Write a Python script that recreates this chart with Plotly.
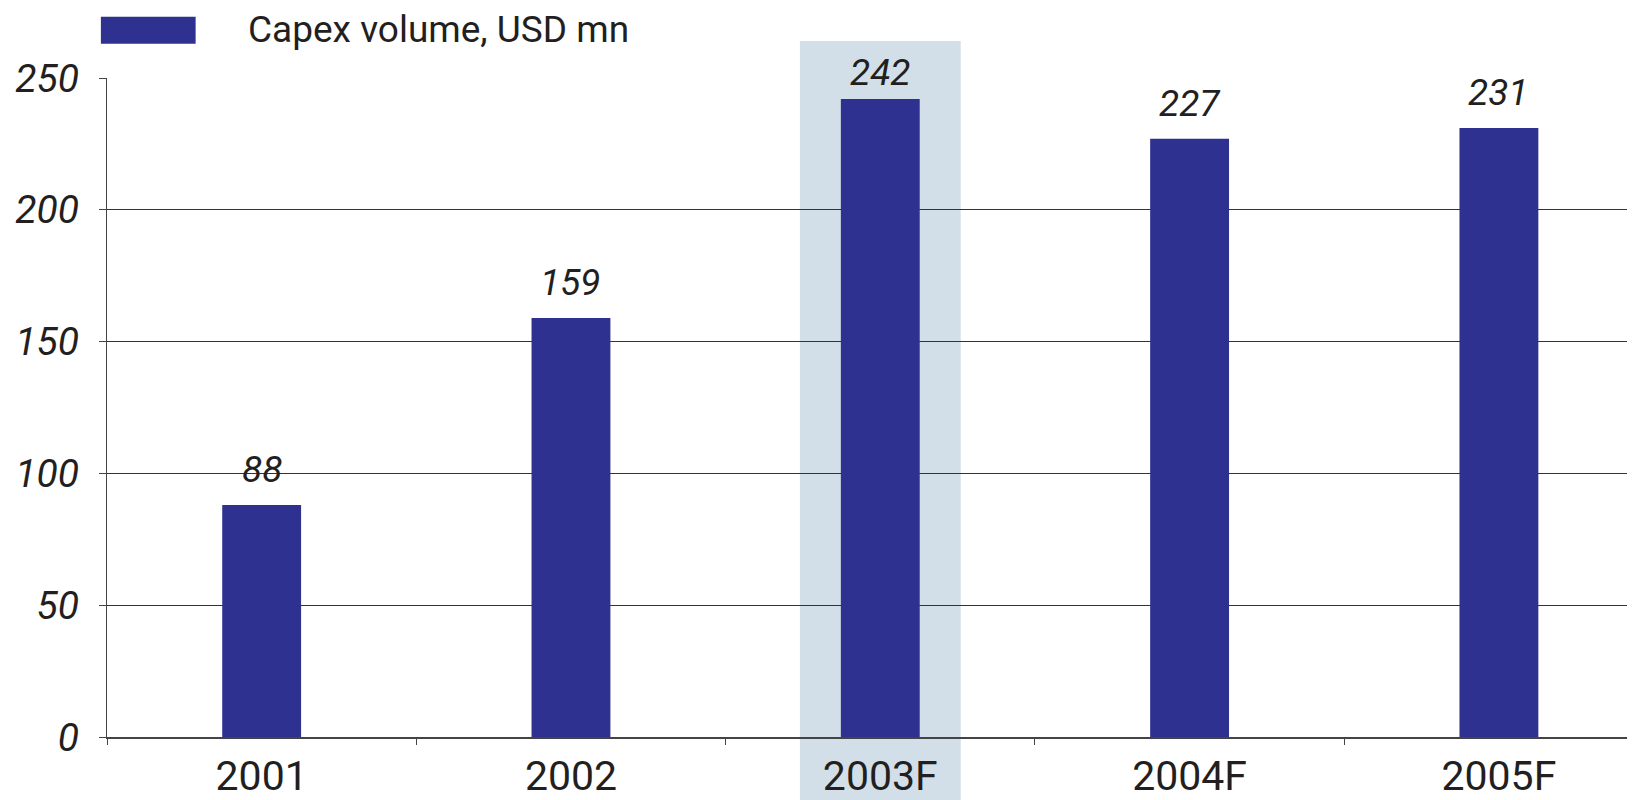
import plotly.graph_objects as go

years = ["2001", "2002", "2003F", "2004F", "2005F"]
capex = [88, 159, 242, 227, 231]
highlight = "2003F"
series_name = "Capex volume, USD mn"
y_ticks = [0, 50, 100, 150, 200, 250]

BAR = "#2e3190"
BAND = "#d3dfe8"
INK = "#231f20"
FONT = "Roboto"

fig = go.Figure()

fig.add_trace(go.Bar(x=years, y=capex, name=series_name, width=0.255,
                     marker=dict(color=BAR, line=dict(width=0)),
                     showlegend=False))

# shaded band behind the first forecast year
hi = years.index(highlight)
fig.add_shape(type="rect", xref="x", yref="paper", layer="below",
              x0=hi - 0.26, x1=hi + 0.26, y0=-0.1, y1=1.056,
              fillcolor=BAND, line=dict(width=0))

# value labels above the bars (category index, since "2001" would be read as a number)
# the label in the shaded band sits tighter to its bar, as in the original
for i, v in enumerate(capex):
    fig.add_annotation(x=i, y=v, text=str(v), showarrow=False,
                       yanchor="bottom", yshift=3 if i == hi else 12,
                       font=dict(family=FONT, size=37, color=INK, style="italic"))

# legend drawn by hand so the swatch keeps its size
fig.add_shape(type="rect", xref="paper", yref="paper",
              x0=-0.004, x1=0.058, y0=1.052, y1=1.093,
              fillcolor=BAR, line=dict(width=0))
fig.add_annotation(xref="paper", yref="paper", x=0.091, y=1.073,
                   text=series_name, showarrow=False,
                   xanchor="left", yanchor="middle",
                   font=dict(family=FONT, size=37, color=INK))

fig.update_layout(
    width=1627, height=792,
    margin=dict(l=99, r=0, t=70, b=63),
    paper_bgcolor="white", plot_bgcolor="rgba(0,0,0,0)",
    font=dict(family=FONT, color=INK),
)
fig.update_xaxes(
    type="category", range=[-0.5, 4.44],
    showline=True, linecolor="#444", linewidth=1.5,
    ticks="outside", tickson="boundaries", ticklen=6, tickcolor="#444",
    tickfont=dict(family=FONT, size=41, color=INK),
    ticklabelstandoff=2, showgrid=False,
)
fig.update_yaxes(
    range=[0, 250], tickvals=y_ticks,
    showline=True, linecolor="#444", linewidth=1.2,
    showgrid=True, gridcolor="#333", gridwidth=1.2,
    ticks="outside", ticklen=7, tickcolor="#444",
    tickfont=dict(family=FONT, size=39, color=INK, style="italic"),
    ticklabelstandoff=12, zeroline=False,
)

fig.write_html("out.html")
